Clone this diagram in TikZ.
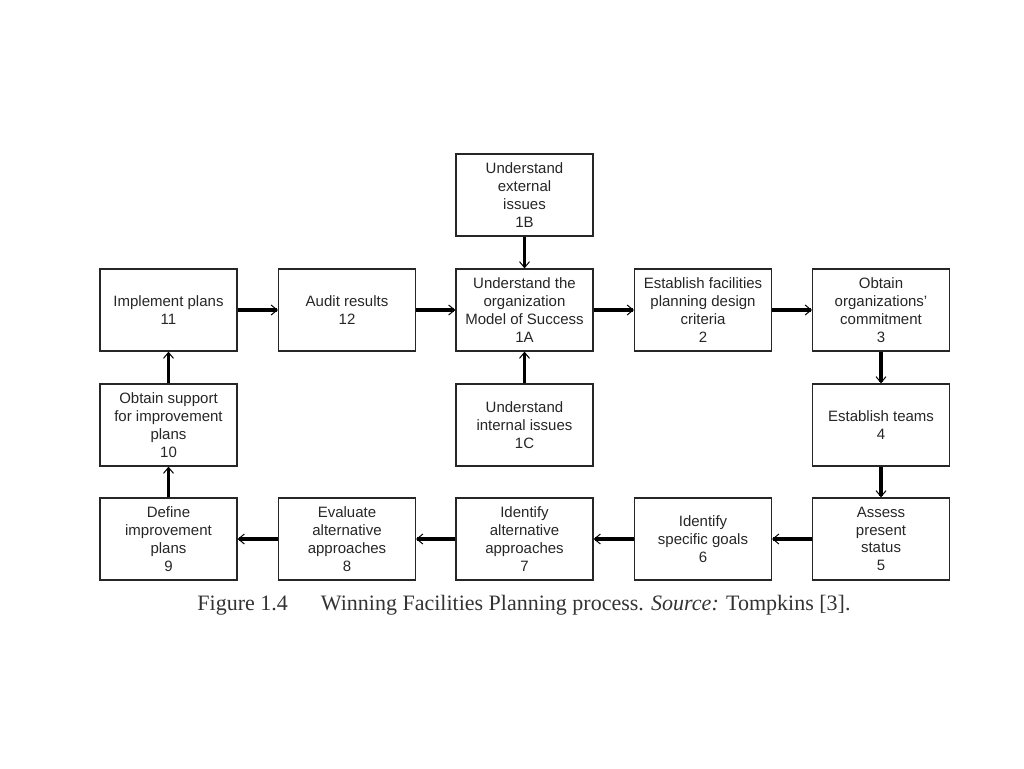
\documentclass[tikz,border=0pt]{standalone}
\usepackage{fontspec}
\setmainfont{Liberation Sans}
\newfontfamily\capfont{Liberation Serif}
\usetikzlibrary{arrows.meta}
\begin{document}
\begin{tikzpicture}[x=1pt,y=-1pt,
  box/.style={draw=black!85,line width=1.2pt,minimum width=137pt,minimum height=82pt,
    inner sep=0pt,align=center,font=\fontsize{15}{17.8}\selectfont,text=black!85},
  flow/.style={line width=3.4pt,draw=black,-{Straight Barb[line width=1pt,length=6pt,width=10pt]}}]
\useasboundingbox (0,0) rectangle (1024,768);
\node[box] (n1B) at (524.5,195) {Understand\\external\\issues\\1B};
\node[box] (n11) at (168.5,310) {Implement plans\\11};
\node[box] (n12) at (347,310) {Audit results\\12};
\node[box] (n1A) at (524.5,310) {Understand the\\organization\\Model of Success\\1A};
\node[box] (n2) at (703,310) {Establish facilities\\planning design\\criteria\\2};
\node[box] (n3) at (881,310) {Obtain\\organizations'\\commitment\\3};
\node[box] (n10) at (168.5,425) {Obtain support\\for improvement\\plans\\10};
\node[box] (n1C) at (524.5,425) {Understand\\internal issues\\1C};
\node[box] (n4) at (881,425) {Establish teams\\4};
\node[box] (n9) at (168.5,539) {Define\\improvement\\plans\\9};
\node[box] (n8) at (347,539) {Evaluate\\alternative\\approaches\\8};
\node[box] (n7) at (524.5,539) {Identify\\alternative\\approaches\\7};
\node[box] (n6) at (703,539) {Identify\\specific goals\\6};
\node[box] (n5) at (881,539) {Assess\\present\\status\\5};
\draw[flow] (n1B) -- (n1A);
\draw[flow] (n1C) -- (n1A);
\draw[flow] (n11) -- (n12);
\draw[flow] (n12) -- (n1A);
\draw[flow] (n1A) -- (n2);
\draw[flow] (n2) -- (n3);
\draw[flow] (n3) -- (n4);
\draw[flow] (n4) -- (n5);
\draw[flow] (n5) -- (n6);
\draw[flow] (n6) -- (n7);
\draw[flow] (n7) -- (n8);
\draw[flow] (n8) -- (n9);
\draw[flow] (n9) -- (n10);
\draw[flow] (n10) -- (n11);
\node[font=\capfont\fontsize{22}{25}\selectfont,text=black!80,anchor=base] (cap) at (524,610)
  {Figure 1.4\hspace{1.5em}Winning Facilities Planning process. \textit{Source:} Tompkins [3].};
\end{tikzpicture}
\end{document}
